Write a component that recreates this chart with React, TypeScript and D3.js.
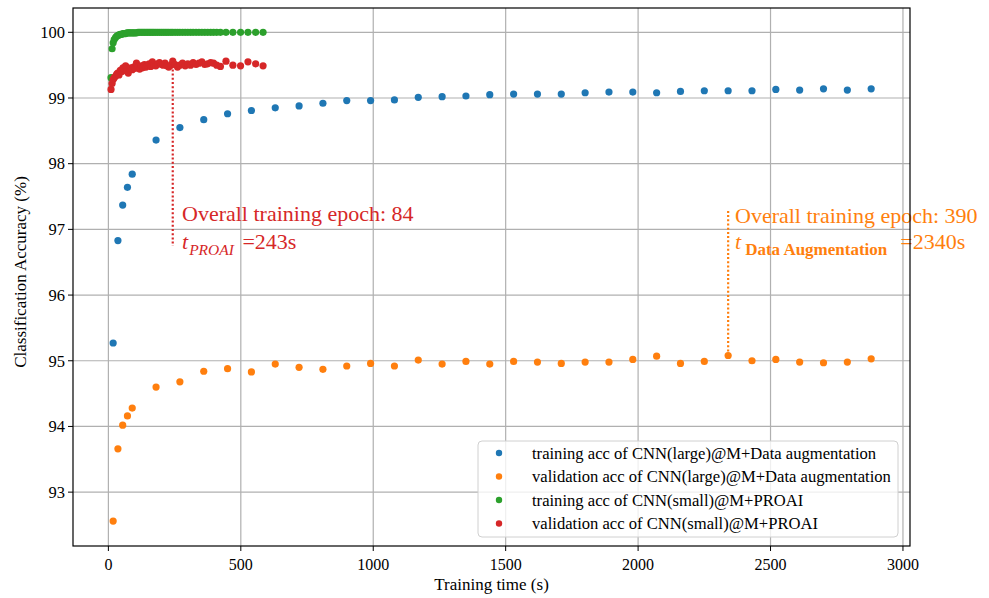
import React from "react";
import * as d3 from "d3";

// Large model (CNN large @ M + data augmentation): time (s) and accuracy (%)
const largeTime = [18, 36, 54, 72, 90, 180, 270, 360, 450, 540, 630, 720, 810, 900, 990, 1080, 1170, 1260, 1350, 1440, 1530, 1620, 1710, 1800, 1890, 1980, 2070, 2160, 2250, 2340, 2430, 2520, 2610, 2700, 2790, 2880];
const largeTrain = [95.27, 96.83, 97.37, 97.64, 97.84, 98.36, 98.55, 98.67, 98.76, 98.81, 98.85, 98.88, 98.92, 98.96, 98.96, 98.97, 99.01, 99.02, 99.03, 99.05, 99.06, 99.06, 99.06, 99.08, 99.09, 99.09, 99.08, 99.10, 99.11, 99.11, 99.11, 99.13, 99.12, 99.14, 99.12, 99.14];
const largeVal = [92.56, 93.66, 94.02, 94.16, 94.28, 94.60, 94.68, 94.84, 94.88, 94.83, 94.95, 94.90, 94.87, 94.92, 94.96, 94.92, 95.01, 94.95, 94.99, 94.95, 94.99, 94.98, 94.96, 94.98, 94.98, 95.02, 95.07, 94.96, 94.99, 95.08, 95.00, 95.02, 94.98, 94.97, 94.98, 95.03];

// Small model (CNN small @ M + PROAI): time (s) and accuracy (%)
const smallTime = [10, 14, 18, 22, 27, 31, 35, 40, 45, 50, 55, 60, 65, 70, 75, 80, 85, 90, 95, 100, 106, 112, 118, 124, 130, 136, 142, 148, 154, 160, 166, 172, 179, 186, 193, 200, 207, 214, 221, 228, 236, 243, 252, 261, 270, 280, 290, 300, 310, 320, 331, 342, 353, 364, 375, 386, 397, 409, 423, 444, 470, 499, 527, 556, 584];
const smallTrain = [99.31, 99.75, 99.84, 99.89, 99.92, 99.94, 99.95, 99.96, 99.97, 99.97, 99.98, 99.98, 99.98, 99.99, 99.99, 99.99, 99.99, 99.99, 99.99, 99.99, 99.99, 100.0, 100.0, 100.0, 100.0, 100.0, 100.0, 100.0, 100.0, 100.0, 100.0, 100.0, 100.0, 100.0, 100.0, 100.0, 100.0, 100.0, 100.0, 100.0, 100.0, 100.0, 100.0, 100.0, 100.0, 100.0, 100.0, 100.0, 100.0, 100.0, 100.0, 100.0, 100.0, 100.0, 100.0, 100.0, 100.0, 100.0, 100.0, 100.0, 100.0, 100.0, 100.0, 100.0, 100.0];
const smallVal = [99.13, 99.22, 99.28, 99.31, 99.33, 99.36, 99.38, 99.35, 99.42, 99.40, 99.46, 99.43, 99.49, 99.41, 99.38, 99.44, 99.46, 99.43, 99.47, 99.45, 99.53, 99.48, 99.44, 99.49, 99.46, 99.51, 99.47, 99.50, 99.52, 99.48, 99.55, 99.50, 99.49, 99.52, 99.54, 99.51, 99.50, 99.53, 99.49, 99.47, 99.50, 99.56, 99.51, 99.47, 99.50, 99.53, 99.49, 99.52, 99.50, 99.54, 99.51, 99.53, 99.55, 99.51, 99.52, 99.54, 99.53, 99.50, 99.48, 99.56, 99.50, 99.49, 99.55, 99.52, 99.49];

const xTicks = [0, 500, 1000, 1500, 2000, 2500, 3000];
const yTicks = [93, 94, 95, 96, 97, 98, 99, 100];

const seriesNames = [
  "training acc of CNN(large)@M+Data augmentation",
  "validation acc of CNN(large)@M+Data augmentation",
  "training acc of CNN(small)@M+PROAI",
  "validation acc of CNN(small)@M+PROAI",
];
const seriesColors = ["#1f77b4", "#ff7f0e", "#2ca02c", "#d62728"];

// Annotated end-of-training points
const proaiMark = { time: 243, acc: 99.56, epochs: 84 };
const augMark = { time: 2340, acc: 95.08, epochs: 390 };

const W = 989;
const H = 598;
const plot = { left: 73, right: 910, top: 8, bottom: 546 };

export default function App() {
  const x = d3.scaleLinear().domain([-133.6, 3026.6]).range([plot.left, plot.right]);
  const y = d3.scaleLinear().domain([92.18, 100.37]).range([plot.bottom, plot.top]);

  const series = [
    { t: largeTime, v: largeTrain },
    { t: largeTime, v: largeVal },
    { t: smallTime, v: smallTrain },
    { t: smallTime, v: smallVal },
  ];

  const serif = "'Liberation Serif', 'Times New Roman', serif";
  const annFont = "'Liberation Serif', 'DejaVu Serif', serif";

  const legend = { x: 478, y: 441, w: 420, h: 96 };

  return (
    <svg
      width={W}
      height={H}
      viewBox={`0 0 ${W} ${H}`}
      style={{ position: "absolute", left: 0, top: 0, background: "#fff" }}
      fontFamily={serif}
    >
      <rect x={0} y={0} width={W} height={H} fill="#fff" />
      {/* grid */}
      <g stroke="#b0b0b0" strokeWidth={1.2}>
        {xTicks.map((t) => (
          <line key={"gx" + t} x1={x(t)} x2={x(t)} y1={plot.top} y2={plot.bottom} />
        ))}
        {yTicks.map((t) => (
          <line key={"gy" + t} x1={plot.left} x2={plot.right} y1={y(t)} y2={y(t)} />
        ))}
      </g>

      {/* data points */}
      {series.map((s, si) => (
        <g key={"s" + si} fill={seriesColors[si]}>
          {s.t.map((t, i) => (
            <circle key={i} cx={x(t)} cy={y(s.v[i])} r={3.6} />
          ))}
        </g>
      ))}

      {/* annotation guides */}
      <line
        x1={x(proaiMark.time)}
        x2={x(proaiMark.time)}
        y1={y(proaiMark.acc) + 4}
        y2={246}
        stroke="#d62728"
        strokeWidth={2.2}
        strokeDasharray="2,2.2"
      />
      <line
        x1={x(augMark.time)}
        x2={x(augMark.time)}
        y1={y(augMark.acc) - 4}
        y2={209}
        stroke="#ff7f0e"
        strokeWidth={2.2}
        strokeDasharray="2,2.2"
      />

      {/* annotation text */}
      <g fill="#d62728" fontFamily={annFont} fontSize={22}>
        <text x={182} y={221}>{`Overall training epoch: ${proaiMark.epochs}`}</text>
        <text x={182} y={249}>
          <tspan fontStyle="italic">t</tspan>
          <tspan fontStyle="italic" fontSize={15.5} dx={1} dy={6}>PROAI</tspan>
          <tspan dx={3} dy={-6}>{` =${proaiMark.time}s`}</tspan>
        </text>
      </g>
      <g fill="#ff7f0e" fontFamily={annFont} fontSize={22}>
        <text x={735} y={223}>{`Overall training epoch: ${augMark.epochs}`}</text>
        <text x={735} y={249}>
          <tspan fontStyle="italic">t</tspan>
          <tspan fontSize={17} fontWeight="bold" dx={4} dy={6}>Data Augmentation</tspan>
          <tspan dx={13} dy={-6}>{`=${augMark.time}s`}</tspan>
        </text>
      </g>

      {/* legend */}
      <g>
        <rect
          x={legend.x}
          y={legend.y}
          width={legend.w}
          height={legend.h}
          rx={4}
          fill="#fff"
          fillOpacity={0.8}
          stroke="#d0d0d0"
          strokeWidth={1}
        />
        {seriesNames.map((name, i) => (
          <g key={"lg" + i}>
            <circle cx={499} cy={453 + i * 23.5} r={3.2} fill={seriesColors[i]} />
            <text x={532} y={453 + i * 23.5} dy="0.35em" fontSize={16.6} fill="#000">
              {name}
            </text>
          </g>
        ))}
      </g>

      {/* axes frame */}
      <rect
        x={plot.left}
        y={plot.top}
        width={plot.right - plot.left}
        height={plot.bottom - plot.top}
        fill="none"
        stroke="#000"
        strokeWidth={1.2}
      />

      {/* x axis ticks */}
      {xTicks.map((t) => (
        <g key={"xt" + t}>
          <line x1={x(t)} x2={x(t)} y1={plot.bottom} y2={plot.bottom + 5} stroke="#000" strokeWidth={1} />
          <text x={x(t)} y={plot.bottom + 18} dy="0.35em" textAnchor="middle" fontSize={16}>
            {t}
          </text>
        </g>
      ))}
      {/* y axis ticks */}
      {yTicks.map((t) => (
        <g key={"yt" + t}>
          <line x1={plot.left - 5} x2={plot.left} y1={y(t)} y2={y(t)} stroke="#000" strokeWidth={1} />
          <text x={plot.left - 8} y={y(t)} dy="0.35em" textAnchor="end" fontSize={16.5}>
            {t}
          </text>
        </g>
      ))}

      <text x={(plot.left + plot.right) / 2} y={584} dy="0.35em" textAnchor="middle" fontSize={17}>
        Training time (s)
      </text>
      <text
        transform={`translate(20,${(plot.top + plot.bottom) / 2 - 5}) rotate(-90)`}
        dy="0.35em"
        textAnchor="middle"
        fontSize={17}
      >
        Classification Accuracy (%)
      </text>
    </svg>
  );
}
